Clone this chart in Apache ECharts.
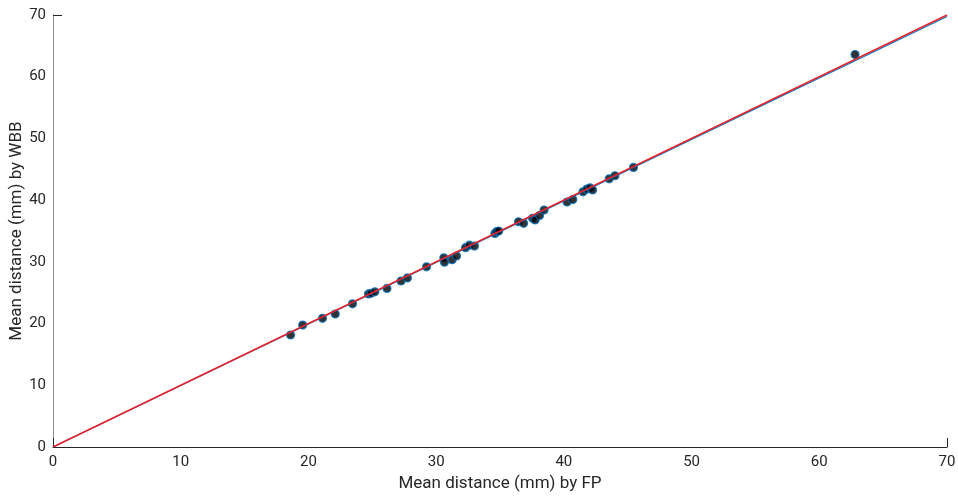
<!DOCTYPE html>
<html>
<head>
<meta charset="utf-8">
<script src="https://cdn.jsdelivr.net/npm/echarts@6/dist/echarts.min.js"></script>
<style>html,body{margin:0;padding:0;background:#fff;}#c{width:958px;height:497px;}</style>
</head>
<body>
<div id="c"></div>
<script>
// Mean distance (mm) by FP
const fpValues = [18.6, 19.55, 21.1, 22.1, 23.45, 24.7, 24.9, 25.2, 26.15, 27.25, 27.75,
  29.25, 30.6, 30.65, 31.25, 31.6, 32.3, 32.6, 33.0, 34.6, 34.75, 34.9,
  36.45, 36.85, 37.55, 37.75, 38.1, 38.45, 40.25, 40.7, 41.5, 41.8, 42.05, 42.25,
  43.55, 44.0, 45.45, 62.8];
// Mean distance (mm) by WBB
const wbbValues = [18.15, 19.75, 20.85, 21.55, 23.2, 24.8, 24.9, 25.15, 25.7, 26.9, 27.4,
  29.2, 30.65, 29.95, 30.35, 30.95, 32.3, 32.7, 32.55, 34.6, 34.9, 35.0,
  36.5, 36.25, 37.05, 36.8, 37.5, 38.4, 39.7, 40.1, 41.35, 41.8, 42.0, 41.65,
  43.45, 43.95, 45.3, 63.6];
// Fitted line (blue) and identity line (red)
const fitX = [0, 70];
const fitY = [0, 69.75];
const identityX = [0, 70];
const identityY = [0, 70];

const font = 'Roboto';
const chart = echarts.init(document.getElementById('c'), null, {renderer: 'canvas'});
chart.setOption({
  animation: false,
  backgroundColor: '#ffffff',
  grid: {left: 53, right: 11, top: 15, bottom: 50, containLabel: false, outerBoundsMode: 'none'},
  xAxis: {
    type: 'value', min: 0, max: 70, interval: 10,
    name: 'Mean distance (mm) by FP', nameLocation: 'middle', nameGap: 28, nameMoveOverlap: false,
    nameTextStyle: {fontFamily: font, fontSize: 17, color: '#262626'},
    axisLine: {lineStyle: {color: '#262626', width: 1}},
    axisTick: {show: true, inside: true, length: 9, customValues: [0, 70], lineStyle: {color: '#262626'}},
    axisLabel: {fontFamily: font, fontSize: 15, color: '#262626', margin: 8},
    splitLine: {show: false}
  },
  yAxis: {
    type: 'value', min: 0, max: 70, interval: 10,
    name: 'Mean distance (mm) by WBB', nameLocation: 'middle', nameGap: 28, nameMoveOverlap: false,
    nameTextStyle: {fontFamily: font, fontSize: 17, color: '#262626'},
    axisLine: {lineStyle: {color: '#8c8c8c', width: 1}},
    axisTick: {show: true, inside: true, length: 9, customValues: [70], lineStyle: {color: '#262626'}},
    axisLabel: {fontFamily: font, fontSize: 15, color: '#262626', margin: 7},
    splitLine: {show: false}
  },
  series: [
    {
      type: 'scatter',
      data: fpValues.map((x, i) => [x, wbbValues[i]]),
      symbol: 'circle', symbolSize: 8,
      itemStyle: {color: '#000000', borderColor: '#0072BD', borderWidth: 1.2},
      z: 2
    },
    {
      type: 'line',
      data: fitX.map((x, i) => [x, fitY[i]]),
      symbol: 'none',
      lineStyle: {color: '#0072BD', width: 1.2},
      z: 3
    },
    {
      type: 'line',
      data: identityX.map((x, i) => [x, identityY[i]]),
      symbol: 'none',
      lineStyle: {color: '#e8202a', width: 1.4},
      z: 4
    }
  ]
});
</script>
</body>
</html>
